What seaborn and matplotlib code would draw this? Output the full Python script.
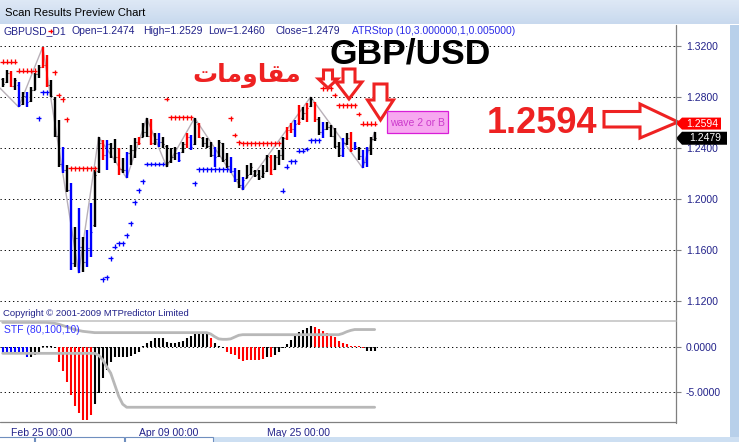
import numpy as np
import pandas as pd
import matplotlib
matplotlib.use("Agg")
import matplotlib.pyplot as plt
from matplotlib.patches import Rectangle, Polygon
from matplotlib.colors import LinearSegmentedColormap
import seaborn as sns

# ----------------------------------
# GBPUSD daily bars
# ----------------------------------
highs = [1.2951, 1.3014, 1.3006, 1.2951, 1.2920, 1.2842, 1.2842, 1.2881, 1.2991, 1.3053,
         1.3194, 1.3132, 1.2936, 1.2802, 1.2622, 1.2410, 1.2269, 1.2128, 1.1783, 1.1932,
         1.1705, 1.1760, 1.1971, 1.2230, 1.2489, 1.2465, 1.2465, 1.2442, 1.2473, 1.2402,
         1.2324, 1.2371, 1.2426, 1.2481, 1.2489, 1.2598, 1.2638, 1.2630, 1.2520, 1.2520,
         1.2489, 1.2426, 1.2402, 1.2410, 1.2371, 1.2450, 1.2520, 1.2504, 1.2638, 1.2598,
         1.2489, 1.2481, 1.2450, 1.2410, 1.2465, 1.2442, 1.2363, 1.2332, 1.2246, 1.2230,
         1.2175, 1.2269, 1.2285, 1.2230, 1.2230, 1.2269, 1.2348, 1.2348, 1.2348, 1.2387,
         1.2489, 1.2567, 1.2598, 1.2622, 1.2740, 1.2724, 1.2755, 1.2802, 1.2763, 1.2646,
         1.2606, 1.2606, 1.2583, 1.2559, 1.2450, 1.2481, 1.2520, 1.2528, 1.2450, 1.2410,
         1.2387, 1.2410, 1.2489, 1.2529]
lows = [1.2881, 1.2912, 1.2881, 1.2857, 1.2724, 1.2740, 1.2724, 1.2763, 1.2857, 1.2951,
        1.3030, 1.2881, 1.2802, 1.2489, 1.2254, 1.2207, 1.2058, 1.1446, 1.1470, 1.1423,
        1.1430, 1.1470, 1.1548, 1.1783, 1.2207, 1.2308, 1.2230, 1.2324, 1.2285, 1.2191,
        1.2207, 1.2167, 1.2269, 1.2324, 1.2426, 1.2489, 1.2489, 1.2426, 1.2426, 1.2410,
        1.2402, 1.2254, 1.2285, 1.2308, 1.2293, 1.2363, 1.2402, 1.2387, 1.2426, 1.2481,
        1.2410, 1.2402, 1.2332, 1.2254, 1.2332, 1.2293, 1.2246, 1.2207, 1.2136, 1.2089,
        1.2073, 1.2167, 1.2191, 1.2175, 1.2152, 1.2167, 1.2214, 1.2191, 1.2230, 1.2269,
        1.2308, 1.2465, 1.2520, 1.2489, 1.2583, 1.2622, 1.2606, 1.2724, 1.2606, 1.2504,
        1.2481, 1.2544, 1.2489, 1.2402, 1.2332, 1.2332, 1.2426, 1.2371, 1.2387, 1.2308,
        1.2246, 1.2254, 1.2348, 1.2460]
opens = [1.2940, 1.2920, 1.2990, 1.2890, 1.2900, 1.2745, 1.2810, 1.2770, 1.2860, 1.2980,
         1.3040, 1.3050, 1.2900, 1.2790, 1.2500, 1.2280, 1.2230, 1.2070, 1.1500, 1.1700,
         1.1630, 1.1510, 1.1620, 1.1800, 1.2220, 1.2440, 1.2350, 1.2430, 1.2400, 1.2330,
         1.2240, 1.2230, 1.2360, 1.2390, 1.2450, 1.2490, 1.2530, 1.2500, 1.2440, 1.2470,
         1.2450, 1.2420, 1.2300, 1.2330, 1.2360, 1.2370, 1.2430, 1.2490, 1.2430, 1.2590,
         1.2480, 1.2440, 1.2420, 1.2350, 1.2340, 1.2440, 1.2320, 1.2260, 1.2220, 1.2160,
         1.2110, 1.2170, 1.2200, 1.2220, 1.2200, 1.2180, 1.2220, 1.2330, 1.2240, 1.2330,
         1.2350, 1.2480, 1.2540, 1.2550, 1.2600, 1.2640, 1.2680, 1.2730, 1.2760, 1.2630,
         1.2530, 1.2550, 1.2570, 1.2500, 1.2420, 1.2350, 1.2440, 1.2480, 1.2400, 1.2400,
         1.2340, 1.2290, 1.2390, 1.2474]
closes = [1.2905, 1.2990, 1.2890, 1.2935, 1.2740, 1.2810, 1.2760, 1.2860, 1.2980, 1.3040,
          1.3050, 1.2900, 1.2810, 1.2500, 1.2280, 1.2230, 1.2070, 1.1500, 1.1700, 1.1630,
          1.1510, 1.1620, 1.1740, 1.2190, 1.2440, 1.2350, 1.2430, 1.2400, 1.2330, 1.2240,
          1.2230, 1.2360, 1.2390, 1.2450, 1.2440, 1.2530, 1.2500, 1.2440, 1.2470, 1.2450,
          1.2430, 1.2290, 1.2330, 1.2360, 1.2310, 1.2430, 1.2490, 1.2410, 1.2610, 1.2490,
          1.2440, 1.2420, 1.2350, 1.2330, 1.2450, 1.2310, 1.2260, 1.2220, 1.2160, 1.2110,
          1.2150, 1.2190, 1.2250, 1.2190, 1.2170, 1.2210, 1.2340, 1.2200, 1.2330, 1.2350,
          1.2480, 1.2540, 1.2550, 1.2590, 1.2610, 1.2680, 1.2720, 1.2790, 1.2630, 1.2530,
          1.2550, 1.2570, 1.2500, 1.2420, 1.2350, 1.2440, 1.2480, 1.2390, 1.2420, 1.2340,
          1.2290, 1.2390, 1.2470, 1.2479]
bar_colour_codes = ("kkrkbkbkkk" "rrkkkbkbkb" "kbbkkrbkkr" "kbkkrkkrkb" "kkkkbkrbkr"
                    "kkkbkkkbbk" "bkkkkkkrkk" "krrbrkrkrk" "bkkkkbkrbk" "bbkk")

# ATRStop (10,3,1,0.005) levels, '-' = no dot
stop_levels = [1.3079, 1.3079, 1.3079, 1.3079, 1.3010, 1.3010, 1.3010, 1.3010, 1.3010, 1.2635,
               1.2839, 1.2839, 1.3320, 1.2996, 1.2818, 1.2784, 1.2628, 1.2243, 1.2243, 1.2243,
               1.2243, 1.2243, 1.2243, 1.2243, np.nan, 1.1373, 1.1389, 1.1538, 1.1630, 1.1655,
               1.1655, 1.1718, 1.1812, 1.1977, 1.2071, 1.2141, 1.2277, 1.2277, 1.2277, 1.2277,
               1.2277, 1.2787, 1.2643, 1.2643, 1.2643, 1.2643, 1.2643, 1.2643, 1.2126, 1.2236,
               1.2236, 1.2236, 1.2236, 1.2236, 1.2236, 1.2236, 1.2236, 1.2635, 1.2504, 1.2447,
               1.2439, 1.2439, 1.2439, 1.2439, 1.2439, 1.2439, 1.2439, 1.2439, 1.2439, 1.2439,
               1.2069, 1.2257, 1.2298, 1.2298, 1.2381, 1.2381, 1.2395, 1.2463, 1.2463, 1.2463,
               1.2871, 1.2871, 1.2871, 1.2818, 1.2737, 1.2737, 1.2737, 1.2737, 1.2737, 1.2669,
               1.2594, 1.2594, 1.2594, 1.2594]
stop_sides = ("rrrrrrrrrb" "bbrrrrrrrr" "rrrr-bbbbb" "bbbbbbbbbb" "brrrrrrrbb"
              "bbbbbbbrrr" "rrrrrrrrrr" "bbbbbbbbbb" "rrrrrrrrrr" "rrrr")

# zigzag pivots (bar index, price)
zigzag_index = [-0.7, 4, 10, 19, 24, 31, 36, 41, 48, 60, 77, 90, 93]
zigzag_price = [1.2873, 1.2724, 1.3194, 1.1423, 1.2489, 1.2167, 1.2638, 1.2254,
                1.2638, 1.2073, 1.2802, 1.2246, 1.2529]

# STF (80,100,10) histogram and bands
stf_values = [-0.65, -0.65, -0.65, -0.65, -0.65, -0.65, -1.1, -1.1, -0.9, -0.6,
              0.15, 0.15, 0.1, -0.1, -1.6, -2.7, -3.9, -5.4, -6.6, -7.4,
              -8.2, -8.2, -7.6, -6.4, -5.1, -3.5, -2.6, -1.6, -1.1, -1.1,
              -1.1, -1.1, -1.0, -0.8, -0.5, 0.1, 0.5, 0.7, 1.0, 1.1,
              1.0, 0.6, 0.5, 0.5, 0.55, 0.7, 1.0, 1.3, 1.5, 1.5,
              1.5, 1.5, 1.0, 0.45, 0.15, -0.1, -0.5, -0.75, -0.85, -1.3,
              -1.5, -1.45, -1.45, -1.45, -1.4, -1.35, -1.05, -1.05, -0.85, -0.5,
              -0.1, 0.35, 0.8, 1.3, 1.7, 1.95, 2.2, 2.4, 2.3, 2.05,
              1.8, 1.65, 1.4, 1.15, 0.75, 0.5, 0.4, 0.2, 0.2, 0.1,
              -0.1, -0.4, -0.4, -0.4]
stf_colour_codes = ("bbbbbbbkkk" "kkkkrrrrrr" "rrrkkkkkkk" "kkkkkkkkkk" "kkkkkkkkkk"
                    "kkrkkkrrrr" "rrrrrrkrkk" "kkkkkkkkrr" "rrrrrrrrrr" "rkkk")
upper_band = [2.8, 2.8, 2.8, 2.8, 2.8, 2.8, 2.8, 2.8, 2.8, 2.8,
              2.8, 2.8, 2.75, 2.7, 2.6, 2.45, 2.3, 2.15, 2.0, 1.9,
              1.8, 1.75, 1.7, 1.65, 1.65, 1.65, 1.65, 1.65, 1.65, 1.65,
              1.65, 1.65, 1.65, 1.65, 1.65, 1.65, 1.65, 1.65, 1.65, 1.65,
              1.65, 1.65, 1.65, 1.65, 1.65, 1.65, 1.65, 1.65, 1.65, 1.65,
              1.65, 1.65, 1.5, 1.2, 0.95, 0.9, 0.9, 0.95, 1.15, 1.35,
              1.42, 1.42, 1.42, 1.42, 1.42, 1.42, 1.42, 1.42, 1.42, 1.42,
              1.42, 1.42, 1.42, 1.42, 1.42, 1.42, 1.42, 1.42, 1.42, 1.42,
              1.42, 1.42, 1.42, 1.42, 1.42, 1.55, 1.75, 1.9, 2.0, 2.0,
              2.0, 2.0, 2.0, 2.0]
lower_band = [-0.68, -0.68, -0.68, -0.68, -0.68, -0.68, -0.68, -0.68, -0.68, -0.68,
              -0.68, -0.68, -0.68, -0.68, -0.68, -0.68, -0.68, -0.68, -0.68, -0.68,
              -0.68, -0.68, -0.68, -0.68, -0.9, -1.4, -2.2, -2.9, -4.2, -5.5,
              -6.4, -6.75, -6.75, -6.75, -6.75, -6.75, -6.75, -6.75, -6.75, -6.75,
              -6.75, -6.75, -6.75, -6.75, -6.75, -6.75, -6.75, -6.75, -6.75, -6.75,
              -6.75, -6.75, -6.75, -6.75, -6.75, -6.75, -6.75, -6.75, -6.75, -6.75,
              -6.75, -6.75, -6.75, -6.75, -6.75, -6.75, -6.75, -6.75, -6.75, -6.75,
              -6.75, -6.75, -6.75, -6.75, -6.75, -6.75, -6.75, -6.75, -6.75, -6.75,
              -6.75, -6.75, -6.75, -6.75, -6.75, -6.75, -6.75, -6.75, -6.75, -6.75,
              -6.75, -6.75, -6.75, -6.75]

price_ticks = [1.12, 1.16, 1.20, 1.24, 1.28, 1.32]
stf_ticks = [0, -5]
date_ticks = [2, 34, 66]
date_labels = ["Feb 25 00:00", "Apr 09 00:00", "May 25 00:00"]
stop_value = 1.2594
last_close = 1.2479

# ----------------------------------
# Style
# ----------------------------------
sns.set_style("white")
plt.rcParams["font.family"] = ["Liberation Sans", "DejaVu Sans"]

PALETTE = {"k": "#000000", "r": "#ff0000", "b": "#0000ff"}
NAVY = "#22228a"
RED = "#ee2222"

bars = pd.DataFrame({"high": highs, "low": lows, "open": opens, "close": closes,
                     "colour": [PALETTE[c] for c in bar_colour_codes]})
bars["idx"] = bars.index

stops = pd.DataFrame({"idx": bars["idx"], "level": stop_levels, "side": list(stop_sides)})
stops = stops.dropna(subset=["level"])

stf = pd.DataFrame({"idx": bars["idx"], "value": stf_values,
                    "colour": [PALETTE[c] for c in stf_colour_codes],
                    "upper": upper_band, "lower": lower_band})

W, H = 739, 442
fig = plt.figure(figsize=(W / 100, H / 100), dpi=100)


def px_box(x0, y0, x1, y1):
    return [x0 / W, 1 - y1 / H, (x1 - x0) / W, (y1 - y0) / H]


ax = fig.add_axes(px_box(0, 25, 675, 321))
ax2 = fig.add_axes(px_box(0, 321, 675, 422))

# ----------------------------------
# Price panel
# ----------------------------------
ax.set_xlim(-0.675, 168.1)
ax.set_ylim(1.1046, 1.3367)
for p in price_ticks:
    ax.axhline(p, color="black", lw=0.7, ls=(0, (1.3, 3.0)), zorder=0)

sns.lineplot(x=zigzag_index, y=zigzag_price, color="#b8b0b8", lw=1.0, ax=ax, zorder=2)
ax.vlines(bars["idx"], bars["low"], bars["high"], colors=bars["colour"], lw=1.7, zorder=3)
ax.hlines(bars["open"], bars["idx"] - 0.45, bars["idx"], colors=bars["colour"], lw=0.8, zorder=3)
ax.hlines(bars["close"], bars["idx"], bars["idx"] + 0.45, colors=bars["colour"], lw=0.8, zorder=3)
sns.scatterplot(data=stops, x="idx", y="level", hue="side",
                palette={"r": "#ff0000", "b": "#0000ff"}, marker="+", s=11,
                linewidth=0.95, legend=False, ax=ax, zorder=4)

ax.yaxis.tick_right()
ax.set_yticks(price_ticks, labels=[f"{p:.4f}" for p in price_ticks])
ax.set_xticks([])
ax.tick_params(axis="y", length=4.3, width=0.8, color="#808080", pad=3.6,
               labelsize=7.5, labelcolor=NAVY)
ax.set_xlabel("")
ax.set_ylabel("")
sns.despine(ax=ax, left=True, right=True, top=True, bottom=True)

# ----------------------------------
# STF panel
# ----------------------------------
ax2.set_xlim(-0.675, 168.1)
ax2.set_ylim(-8.41, 2.96)
for v in stf_ticks:
    ax2.axhline(v, color="black", lw=0.7, ls=(0, (1.3, 3.0)), zorder=0)
ax2.vlines(stf["idx"], 0, stf["value"], colors=stf["colour"], lw=1.5, zorder=2)
sns.lineplot(data=stf, x="idx", y="upper", color="#b8b8b8", lw=2.0, ax=ax2, zorder=3)
sns.lineplot(data=stf, x="idx", y="lower", color="#b8b8b8", lw=2.0, ax=ax2, zorder=3)

ax2.yaxis.tick_right()
ax2.set_yticks(stf_ticks, labels=[f"{v:.4f}" for v in stf_ticks])
ax2.set_xticks(date_ticks, labels=date_labels)
for lbl in ax2.get_xticklabels():
    lbl.set_horizontalalignment("left")
ax2.tick_params(axis="y", length=4.3, width=0.8, color="#808080", pad=3.6,
                labelsize=7.5, labelcolor=NAVY)
ax2.tick_params(axis="x", length=3, width=0.8, color="#808080", pad=1.5,
                labelsize=7.5, labelcolor=NAVY)
ax2.set_xlabel("")
ax2.set_ylabel("")
sns.despine(ax=ax2, left=True, right=True, top=True, bottom=True)

# ----------------------------------
# Window chrome and annotations (pixel overlay)
# ----------------------------------
ov = fig.add_axes([0, 0, 1, 1], zorder=10)
ov.patch.set_visible(False)
ov.axis("off")

bar_cmap = LinearSegmentedColormap.from_list("bar", ["#dfe9f6", "#c8d9ee"])
ov.imshow(np.linspace(0, 1, 50).reshape(-1, 1), extent=[0, W, 24.5, 0],
          aspect="auto", cmap=bar_cmap)
ov.set_xlim(0, W)
ov.set_ylim(H, 0)
ov.text(5, 13, "Scan Results Preview Chart", fontsize=8.1, color="black", va="center")

ov.add_patch(Rectangle((730, 24.5), 9, H, color="#b8d0ea", lw=0))
ov.add_patch(Rectangle((0, 436.5), W, 6, color="#cddff2", lw=0))
for x0, x1 in [(-2, 34), (35, 124), (125, 213)]:
    ov.add_patch(Rectangle((x0, 437), x1 - x0, 8, fc="white", ec="#6f8fbf", lw=0.8))

# frame lines
ov.plot([675.5, 675.5], [24.5, 422.5], color="#7f7f7f", lw=0.9)
ov.plot([0, 675.5], [321.3, 321.3], color="#c0c0c0", lw=1.1)
ov.plot([0, 675.5], [422.3, 422.3], color="#808080", lw=0.9)

# header texts
header = [(4, "GBPUSD_D1"), (72, "Open=1.2474"), (143, "High=1.2529"),
          (208, "Low=1.2460"), (275, "Close=1.2479")]
for x, s in header:
    ov.text(x, 31, s, fontsize=7.5, color=NAVY, va="center")
ov.text(352, 31, "ATRStop (10,3.000000,1,0.005000)", fontsize=7.5, color="#2a2ae8", va="center")
ov.text(3, 313, "Copyright \u00a9 2001-2009 MTPredictor Limited", fontsize=6.8,
        color=NAVY, va="center")
ov.text(4, 330, "STF (80,100,10)", fontsize=7.5, color="#3333ff", va="center")

# big labels
ov.text(410, 64, "GBP/USD", fontsize=25.5, fontweight="bold", color="black",
        ha="center", va="baseline")
arabic = "\ufe95\ufe8e\ufee3\ufeed\ufe8e\ufed8\ufee3"  # مقاومات in shaped visual order
ov.text(247, 75, arabic, fontsize=18, fontweight="bold", color=RED,
        ha="center", va="center", family=["DejaVu Sans"])
ov.text(542, 133, "1.2594", fontsize=26, fontweight="bold", color=RED,
        ha="center", va="baseline")


def down_arrow(cx, top, base, tip, sw, hw):
    return [(cx - sw, top), (cx + sw, top), (cx + sw, base), (cx + hw, base),
            (cx, tip), (cx - hw, base), (cx - sw, base)]


for spec in [(328, 70, 79, 88, 4.5, 9.5), (349, 69, 82, 99, 6, 13),
             (380.5, 84, 100, 120, 6.5, 13)]:
    ov.add_patch(Polygon(down_arrow(*spec), closed=True, fc="white", ec=RED,
                         lw=2.2, joinstyle="miter"))
ov.add_patch(Polygon([(604, 111.5), (640, 111.5), (640, 104), (678, 122),
                      (640, 138), (640, 127), (604, 127)], closed=True,
                     fc="white", ec=RED, lw=2.2, joinstyle="miter"))

# wave label
ov.add_patch(Rectangle((387, 111), 61, 22, fc="#f7a8f0", ec="#d81ed8", lw=0.9))
ov.text(417.5, 122.5, "wave 2 or B", fontsize=7.5, color="#cc3acc", ha="center", va="center")


def price_y(p):
    disp = ax.transData.transform((0, p))
    return ov.transData.inverted().transform(disp)[1]


# price tags on the axis
y1 = price_y(stop_value)
ov.add_patch(Polygon([(676, y1), (682, y1 - 6), (721, y1 - 6), (721, y1 + 6), (682, y1 + 6)],
                     closed=True, fc="#ff0000", ec="none"))
ov.text(702, y1, f"{stop_value:.4f}", fontsize=7.5, color="white", ha="center", va="center")
y2 = price_y(last_close)
ov.add_patch(Polygon([(676, y2), (682, y2 - 6.5), (727, y2 - 6.5), (727, y2 + 6.5), (682, y2 + 6.5)],
                     closed=True, fc="black", ec="none"))
ov.text(705, y2, f"{last_close:.4f}", fontsize=7.5, color="white", ha="center", va="center")

fig.savefig("out.png", dpi=100)
